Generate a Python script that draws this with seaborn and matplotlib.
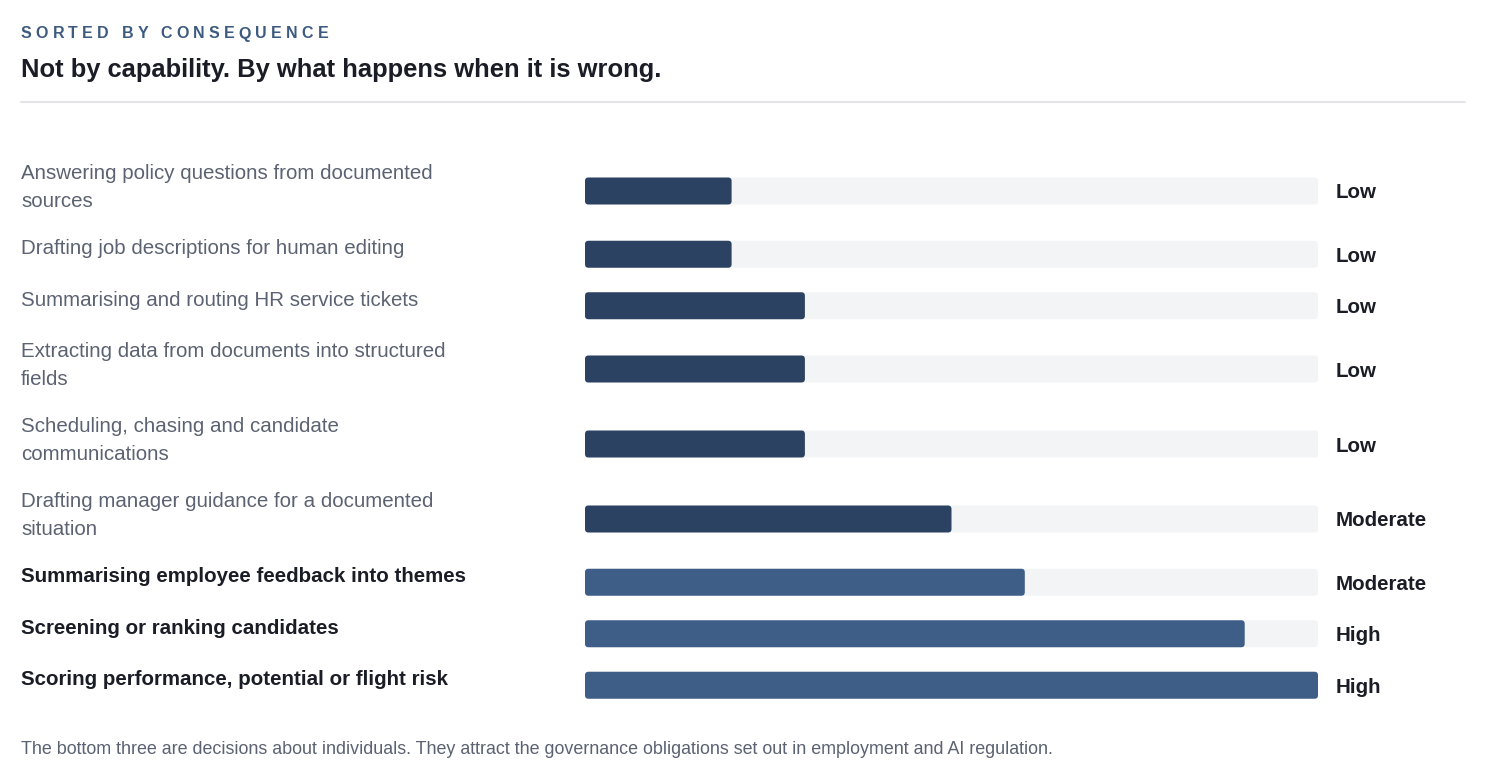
import numpy as np
import pandas as pd
import seaborn as sns
from matplotlib import pyplot as plt
from matplotlib.patches import FancyBboxPatch
from matplotlib.font_manager import FontProperties, findfont
from matplotlib.ft2font import FT2Font

# ---- data ----
tasks = [
    "Answering policy questions from documented\nsources",
    "Drafting job descriptions for human editing",
    "Summarising and routing HR service tickets",
    "Extracting data from documents into structured\nfields",
    "Scheduling, chasing and candidate\ncommunications",
    "Drafting manager guidance for a documented\nsituation",
    "Summarising employee feedback into themes",
    "Screening or ranking candidates",
    "Scoring performance, potential or flight risk",
]
consequence = [20, 20, 30, 30, 30, 50, 60, 90, 100]
level = ["Low", "Low", "Low", "Low", "Low", "Moderate", "Moderate", "High", "High"]
about_individuals = [False, False, False, False, False, False, True, True, True]

kicker = "SORTED BY CONSEQUENCE"
title = "Not by capability. By what happens when it is wrong."
footnote = ("The bottom three are decisions about individuals. They attract the "
            "governance obligations set out in employment and AI regulation.")

# ---- style ----
sns.set_theme(style="white")
plt.rcParams["font.family"] = ["Liberation Sans", "DejaVu Sans"]

DARK = "#2c4262"
LIGHT = "#3f5e87"
TRACK = "#f3f4f6"
INK = "#1a1d26"
GREY = "#5b6271"

W, H = 1497, 768
fig = plt.figure(figsize=(W / 100, H / 100), dpi=100)
fig.patch.set_facecolor("white")

# row layout: taller rows for wrapped labels
row_h = [75 if "\n" in t else 51.5 for t in tasks]
centers = []
y = 153.5
for h in row_h:
    centers.append(y + h / 2)
    y += h
tops = [c - h / 2 for c, h in zip(centers, row_h)]

df = pd.DataFrame({"pos": centers, "value": consequence, "track": 100,
                   "group": ["ind" if b else "gen" for b in about_individuals]})

x0, x1 = 585, 1318
ax = fig.add_axes([x0 / W, 0, (x1 - x0) / W, 1])
ax.set_xlim(0, 100)
ax.set_ylim(H, 0)
ax.axis("off")

bar_w = 27 / 51.5
sns.barplot(data=df, x="track", y="pos", orient="h", native_scale=True,
            color=TRACK, saturation=1, width=bar_w, ax=ax)
sns.barplot(data=df, x="value", y="pos", hue="group", orient="h", native_scale=True,
            palette={"gen": DARK, "ind": LIGHT}, saturation=1, width=bar_w, ax=ax,
            legend=False, dodge=False)

# swap plain rectangles for rounded ones
px_per_x = (x1 - x0) / 100
radius_px = 3.5
for p in list(ax.patches):
    if p.get_width() <= 0:
        continue
    bx, by = p.get_x(), p.get_y()
    bw, bh = p.get_width(), p.get_height()
    fc = p.get_facecolor()
    p.remove()
    ax.add_patch(FancyBboxPatch((bx, by), bw, bh,
                                boxstyle=f"round,pad=0,rounding_size={radius_px / px_per_x}",
                                mutation_aspect=px_per_x, facecolor=fc,
                                edgecolor="none", linewidth=0))

FS = 14.8

# level labels
for c, lv in zip(centers, level):
    fig.text(1336 / W, 1 - (c + 2) / H, lv, fontsize=FS, fontweight="bold",
             color=INK, va="center", ha="left")

# task labels
for t, top, ind in zip(tasks, tops, about_individuals):
    fig.text(21 / W, 1 - (top + 20) / H, t.split("\n")[0], fontsize=FS,
             fontweight="bold" if ind else "normal",
             color=INK if ind else GREY, va="center", ha="left")
    if "\n" in t:
        fig.text(21 / W, 1 - (top + 48) / H, t.split("\n")[1], fontsize=FS,
                 color=GREY, va="center", ha="left")

# kicker with letter spacing, using glyph advances from the font itself
KFS = 11.5
kw = dict(fontsize=KFS, fontweight="bold", color="#3d5a80", va="center", ha="left")
ft = FT2Font(findfont(FontProperties(family="Liberation Sans", weight="bold")))
ft.set_size(KFS, 100)
kx = 21.0
for ch in kicker:
    if ch != " ":
        fig.text(kx / W, 1 - 34 / H, ch, **kw)
    g = ft.load_char(ord(ch))
    kx += g.linearHoriAdvance / 65536 + 4.2

fig.text(21 / W, 1 - 70 / H, title, fontsize=18.4, fontweight="bold",
         color=INK, va="center", ha="left")
fig.add_artist(plt.Line2D([21 / W, 1465 / W], [1 - 102 / H, 1 - 102 / H],
                          color="#e3e5e8", linewidth=1.5))

fig.text(21 / W, 1 - 749 / H, footnote, fontsize=12.9, color=GREY,
         va="center", ha="left")

fig.savefig("out.png", dpi=100, facecolor="white")
